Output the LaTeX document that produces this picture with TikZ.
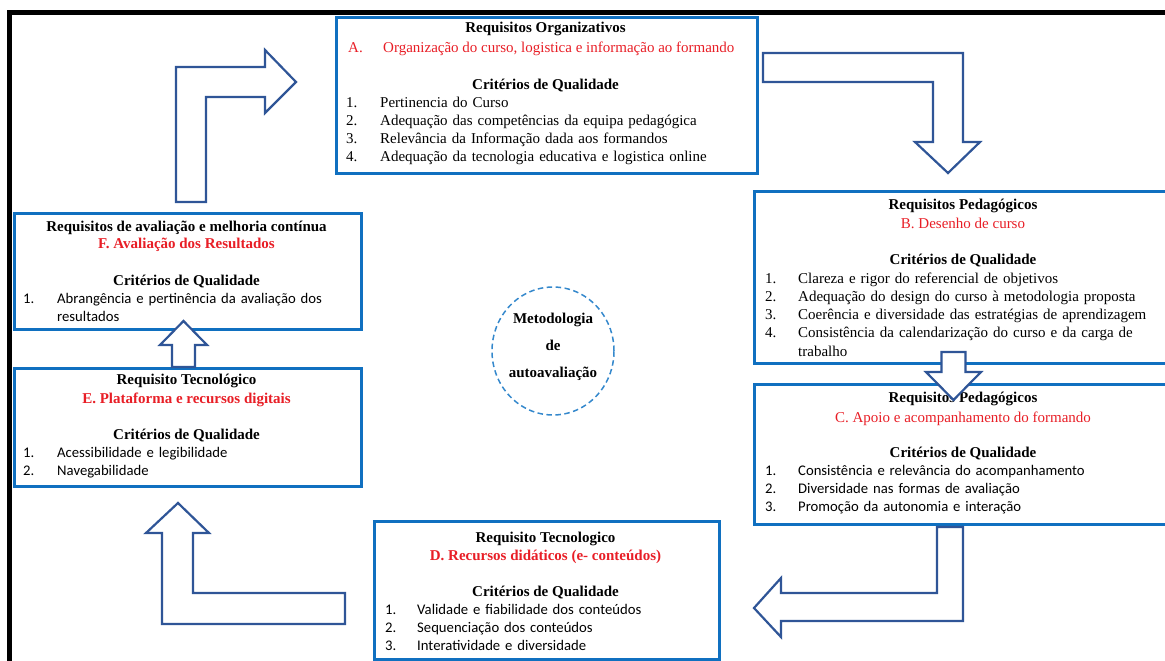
\documentclass[tikz,border=0pt]{standalone}
\usepackage{fontspec}
\setmainfont{Liberation Serif}
\newfontfamily\calibri{Carlito}
\usetikzlibrary{positioning,shapes.geometric}
\definecolor{boxblue}{RGB}{16,112,192}
\definecolor{arrowblue}{RGB}{47,85,151}
\definecolor{dashblue}{RGB}{52,136,204}
\definecolor{redtxt}{RGB}{232,30,38}

\newcommand{\itm}[3][33pt]{\noindent\hangindent=#1\hangafter=1\makebox[#1][l]{#2}#3\par}

\begin{document}
\begin{tikzpicture}[x=1pt,y=-1pt,
			box/.style={draw=boxblue, line width=3pt, inner sep=0pt, anchor=north west},
			blockarrow/.style={draw=arrowblue, line width=2.2pt, fill=white, line join=miter},
			title/.style={font=\bfseries\fontsize{15}{19}\selectfont, align=center, anchor=base, inner sep=0pt},
			crit/.style={font=\bfseries\fontsize{15}{18}\selectfont, anchor=base, inner sep=0pt},
			items/.style={font=\fontsize{15}{18.3}\selectfont, text width=#1, align=left, anchor=base west, inner sep=0pt},
			calitems/.style={font=\calibri\fontsize{14.7}{18}\selectfont, text width=#1, align=left, anchor=base west, inner sep=0pt}]
			
			\useasboundingbox (0,0) rectangle (1165,661);
			\clip (0,0) rectangle (1165,661);
			\draw[line width=5pt] (9.5,680) -- (9.5,12.5) -- (1180,12.5);
			
			% boxes
			\node[box, minimum width=421, minimum height=155.5] (boxA) at (335,16.5) {};
			\node[box, minimum width=420, minimum height=172] (boxB) at (753,190) {};
			\node[box, minimum width=420, minimum height=140] (boxC) at (753,383) {};
			\node[box, minimum width=345, minimum height=138] (boxD) at (373,520) {};
			\node[box, minimum width=347, minimum height=118] (boxE) at (13,367) {};
			\node[box, minimum width=347, minimum height=116] (boxF) at (13,212) {};
			
			% A
			\node[title] (titleA) at (545.5,33) {Requisitos Organizativos};
			\node[font=\fontsize{15}{18}\selectfont, text=redtxt, anchor=base west, inner sep=0pt] (redA) at (348,53) {\makebox[35pt][l]{A.}Organização do curso, logistica e informação ao formando};
			\node[crit] (critA) at (545.5,89) {Critérios de Qualidade};
			\node[items=400] (listA) at (346,107) {\itm[34pt]{1.}{Pertinencia do Curso}\itm[34pt]{2.}{Adequação das competências da equipa pedagógica}\itm[34pt]{3.}{Relevância da Informação dada aos formandos}\itm[34pt]{4.}{Adequação da tecnologia educativa e logistica online}};
			
			% B
			\node[title] (titleB) at (963,228) {Requisitos Pedagógicos\\\mdseries\color{redtxt}B. Desenho de curso};
			\node[crit] (critB) at (963,264) {Critérios de Qualidade};
			\node[items=395] (listB) at (765,283) {\itm{1.}{Clareza e rigor do referencial de objetivos}\itm{2.}{Adequação do design do curso à metodologia proposta}\itm{3.}{Coerência e diversidade das estratégias de aprendizagem}\itm{4.}{Consistência da calendarização do curso e da carga de\break trabalho}};
			
			% C
			\node[title, font=\bfseries\fontsize{15}{20}\selectfont] (titleC) at (963,422) {Requisitos Pedagógicos\\\mdseries\color{redtxt}C. Apoio e acompanhamento do formando};
			\node[crit] (critC) at (963,457) {Critérios de Qualidade};
			\node[calitems=395] (listC) at (765,475) {\itm{1.}{Consistência e relevância do acompanhamento}\itm{2.}{Diversidade nas formas de avaliação}\itm{3.}{Promoção da autonomia e interação}};
			
			% D
			\node[title, font=\bfseries\fontsize{15}{18}\selectfont] (titleD) at (545.5,560) {Requisito Tecnologico\\\color{redtxt}D. Recursos didáticos (e- conteúdos)};
			\node[crit] (critD) at (545.5,596) {Critérios de Qualidade};
			\node[calitems=320] (listD) at (385,614) {\itm[32pt]{1.}{Validade e fiabilidade dos conteúdos}\itm[32pt]{2.}{Sequenciação dos conteúdos}\itm[32pt]{3.}{Interatividade e diversidade}};
			
			% E
			\node[title] (titleE) at (186.5,403) {Requisito Tecnológico\\\color{redtxt}E. Plataforma  e recursos digitais};
			\node[crit] (critE) at (186.5,439) {Critérios de Qualidade};
			\node[calitems=320] (listE) at (23,457) {\itm[34pt]{1.}{Acessibilidade e legibilidade}\itm[34pt]{2.}{Navegabilidade}};
			
			% F
			\node[title, font=\bfseries\fontsize{15}{17}\selectfont] (titleF) at (186.5,248) {Requisitos de avaliação e melhoria contínua\\\color{redtxt}F. Avaliação dos Resultados};
			\node[crit] (critF) at (186.5,285) {Critérios de Qualidade};
			\node[calitems=320] (listF) at (23,303) {\itm[34pt]{1.}{Abrangência e pertinência da avaliação dos\break resultados}};
			
			% centre
			\node[ellipse, draw=dashblue, line width=1.5pt, dash pattern=on 5.5pt off 3.5pt, minimum width=122, minimum height=128, inner sep=0pt] (metodo) at (553,351) {};
			\node[font=\bfseries\fontsize{15}{27}\selectfont, align=center, anchor=base, inner sep=0pt] (metodoTxt) at (553,377) {Metodologia\\de\\autoavaliação};
			
			% block arrows
			\draw[blockarrow] (176,202) -- (176,67) -- (265,67) -- (265,50) -- (296,82) -- (265,113) -- (265,97) -- (206,97) -- (206,202) -- cycle;
			\draw[blockarrow] (763,53) -- (963,53) -- (963,142) -- (980,142) -- (948,173) -- (915,142) -- (933,142) -- (933,82) -- (763,82) -- cycle;
			\draw[blockarrow] (941.5,352) -- (965.5,352) -- (965.5,372) -- (981,372) -- (953.5,400) -- (926,372) -- (941.5,372) -- cycle;
			\draw[blockarrow] (937,527) -- (963,527) -- (963,621) -- (781,621) -- (781,637) -- (754,608) -- (781,578) -- (781,593) -- (937,593) -- cycle;
			\draw[blockarrow] (345,624) -- (162,624) -- (162,533) -- (146,533) -- (178,503) -- (209,533) -- (193,533) -- (193,593) -- (345,593) -- cycle;
			\draw[blockarrow] (172,367) -- (172,345) -- (160,345) -- (183.5,321) -- (207,345) -- (195,345) -- (195,367) -- cycle;
		\end{tikzpicture}
\end{document}
